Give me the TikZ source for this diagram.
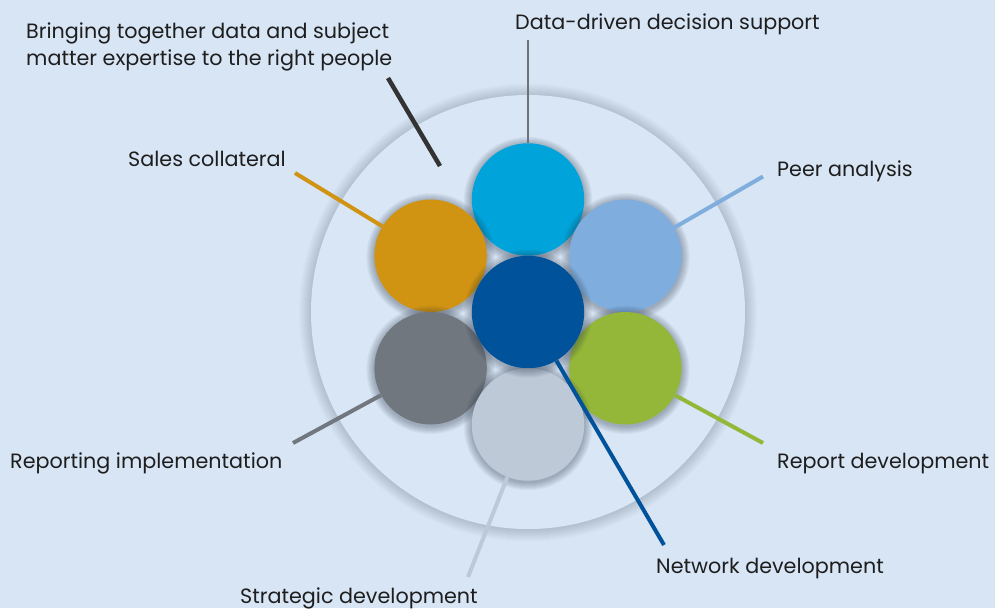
\documentclass[tikz,border=0pt]{standalone}
\usepackage{fontspec}
\setmainfont{Poppins}
\definecolor{bg}{HTML}{D8E5F5}
\definecolor{cdisk}{HTML}{D9E6F6}
\definecolor{ccyan}{HTML}{00A3DA}
\definecolor{clblue}{HTML}{7FAEDE}
\definecolor{corange}{HTML}{D09412}
\definecolor{cgray}{HTML}{70777F}
\definecolor{cgreen}{HTML}{94B739}
\definecolor{clgray}{HTML}{BDC9D7}
\definecolor{cdblue}{HTML}{00529B}
\definecolor{cdark}{HTML}{333333}
\definecolor{cthin}{HTML}{6D7278}
\definecolor{ctext}{HTML}{1E1E1E}
\definecolor{cshadow}{HTML}{1E2A3A}
\tikzset{
  ball/.style={circle, inner sep=0pt, minimum size=112.5pt, draw=none},
  lbl/.style={anchor=base west, inner sep=0pt, text=ctext, font=\fontsize{20.7}{27}\selectfont},
  conn/.style={line width=4pt}
}
\begin{document}
\begin{tikzpicture}[x=1pt,y=-1pt]
\fill[bg] (0,0) rectangle (995,608);
\useasboundingbox (0,0) rectangle (995,608);
% outer disk with soft shadow
\foreach \k in {1,...,12}
  \fill[cshadow, opacity=0.016] (528,312.5) circle[radius={217pt+\k*1pt}];
\node[circle, inner sep=0pt, minimum size=434pt, fill=cdisk, draw=none] (outer) at (528,312) {};
% balls with soft shadows
\foreach \nm/\x/\y/\c in {cyan/528/199.5/ccyan, lblue/625.4/255.75/clblue, orange/430.6/255.75/corange,
  green/625.4/368.25/cgreen, gray/430.6/368.25/cgray, lgray/528/424.5/clgray, dblue/528/312/cdblue} {
  \foreach \k in {1,...,8}
    \fill[cshadow, opacity=0.045] (\x,\y+1.5) circle[radius={56.25pt+\k*1pt}];
  \node[ball, fill=\c] (\nm) at (\x,\y) {};
}

\coordinate (bt1) at (388,78);
\coordinate (bt2) at (440,166);
\coordinate (ddend) at (528,40);
\coordinate (peerend) at (763,176.5);
\coordinate (salesend) at (295,173);
\coordinate (repdevend) at (763,443);
\coordinate (repimpend) at (293,443);
\coordinate (stratend) at (468,577);
\coordinate (netend) at (664,545);

\draw[cdark, line width=4.5pt] (bt1) -- (bt2);
\draw[cthin, line width=1.8pt] (ddend) -- (cyan);
\draw[clblue, conn] (peerend) -- (lblue);
\draw[corange, conn] (salesend) -- (orange);
\draw[cgreen, conn] (repdevend) -- (green);
\draw[cgray, conn] (repimpend) -- (gray);
\draw[clgray, conn] (stratend) -- (lgray);
\draw[cdblue, conn] (netend) -- (dblue);

\node[lbl, align=left] (tbt) at (26,65) {Bringing together data and subject\\matter expertise to the right people};
\node[lbl] (tdd) at (515,29) {Data-driven decision support};
\node[lbl] (tsales) at (128,166) {Sales collateral};
\node[lbl] (tpeer) at (777,176) {Peer analysis};
\node[lbl] (trepimp) at (10,468) {Reporting implementation};
\node[lbl] (trepdev) at (777,468) {Report development};
\node[lbl] (tnet) at (656,573) {Network development};
\node[lbl] (tstrat) at (240,603) {Strategic development};
\end{tikzpicture}
\end{document}
